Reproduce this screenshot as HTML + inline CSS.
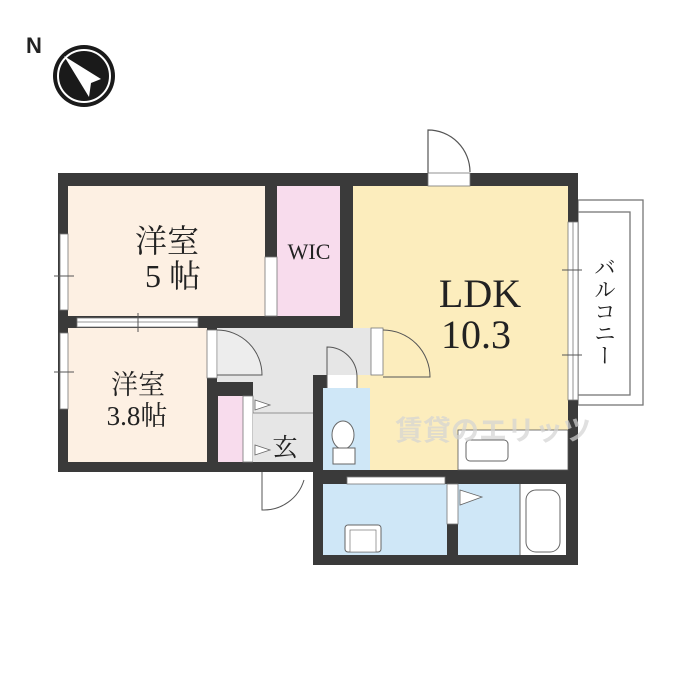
<!DOCTYPE html>
<html><head><meta charset="utf-8"><style>
html,body{margin:0;padding:0;background:#fff;}
svg{display:block}
text{font-family:"Liberation Serif","Noto Serif CJK JP","Noto Serif CJK SC",serif;fill:#222}
</style></head><body>
<svg width="700" height="700" viewBox="0 0 700 700" xmlns="http://www.w3.org/2000/svg">
<text x="26" y="53" font-weight="bold" font-size="22" style="font-family:'Liberation Sans',sans-serif">N</text>
<circle cx="84" cy="76" r="31" fill="#1a1a1a"/>
<circle cx="84" cy="76" r="26" fill="none" stroke="#fff" stroke-width="2"/>
<polygon points="64,56 101,79 91,83 89,97" fill="#fff"/>

<path d="M428,173 V130 A42,42 0 0 1 470,172" fill="none" stroke="#555" stroke-width="1.2"/>
<rect x="578" y="200" width="65" height="205" fill="#fff" stroke="#777" stroke-width="1.3"/>
<rect x="578" y="212" width="52" height="183" fill="#fff" stroke="#777" stroke-width="1.3"/>

<rect x="58" y="173" width="520" height="299" fill="#3a3a3a"/>
<rect x="313" y="375" width="265" height="190" fill="#3a3a3a"/>
<rect x="207" y="316" width="176" height="156" fill="#3a3a3a"/>
<rect x="68" y="186" width="197" height="130" fill="#fdf0e3"/>
<rect x="277" y="186" width="63" height="130" fill="#f8dced"/>
<rect x="353" y="186" width="215" height="284" fill="#fcedbd"/>
<rect x="68" y="328" width="139" height="134" fill="#fdf0e3"/>
<rect x="217" y="328" width="96" height="134" fill="#e6e6e6"/>
<rect x="313" y="328" width="70" height="47" fill="#e6e6e6"/>
<rect x="323" y="388" width="47" height="82" fill="#cfe7f7"/>
<rect x="458" y="430" width="110" height="40" fill="#fff" stroke="#555" stroke-width="0.8"/>
<rect x="323" y="484" width="124" height="71" fill="#cfe7f7"/>
<rect x="458" y="484" width="62" height="71" fill="#cfe7f7"/>
<rect x="520" y="484" width="46" height="71" fill="#fff"/>
<rect x="207" y="382" width="46" height="90" fill="#3a3a3a"/>
<rect x="218" y="396" width="25" height="66" fill="#f8dced"/>
<rect x="243" y="396" width="10" height="66" fill="#fff" stroke="#777" stroke-width="0.8"/>
<rect x="253" y="413" width="60" height="49" fill="#e6e6e6"/>
<line x1="253" y1="413" x2="313" y2="413" stroke="#777" stroke-width="0.8"/>
<rect x="253" y="462" width="60" height="10" fill="#3a3a3a"/>
<polygon points="255,400 270,405 255,410" fill="#fff" stroke="#666" stroke-width="0.8"/>
<polygon points="255,445 270,450 255,455" fill="#fff" stroke="#666" stroke-width="0.8"/>
<rect x="207" y="330" width="10" height="48" fill="#fff" stroke="#777" stroke-width="0.8"/>
<path d="M217,330 A45,45 0 0 1 262,375 H217" fill="#fff" fill-opacity="0.3" stroke="#555" stroke-width="1"/>
<rect x="327" y="375" width="30" height="13" fill="#fff"/>
<path d="M327,388 V347 A30,30 0 0 1 357,377 V388" fill="none" stroke="#555" stroke-width="1"/>
<rect x="371" y="328" width="12" height="47" fill="#fff" stroke="#777" stroke-width="0.8"/>
<path d="M383,330 A47,47 0 0 1 430,377 H383" fill="none" stroke="#555" stroke-width="1"/>
<rect x="428" y="173" width="42" height="13" fill="#fff" stroke="#777" stroke-width="0.8"/>
<rect x="265" y="257" width="12" height="59" fill="#fff" stroke="#777" stroke-width="0.8"/>
<rect x="77" y="318" width="121" height="9" fill="#fff" stroke="#777" stroke-width="0.8"/>
<line x1="77" y1="322" x2="198" y2="322" stroke="#777" stroke-width="0.8"/>
<line x1="138" y1="313" x2="138" y2="332" stroke="#555"/>
<rect x="60" y="234" width="8" height="76" fill="#fff" stroke="#777" stroke-width="0.8"/>
<line x1="54" y1="276" x2="74" y2="276" stroke="#555"/>
<rect x="60" y="333" width="8" height="76" fill="#fff" stroke="#777" stroke-width="0.8"/>
<line x1="54" y1="372" x2="74" y2="372" stroke="#555"/>
<rect x="568" y="222" width="10" height="178" fill="#fff" stroke="#777" stroke-width="0.8"/>
<line x1="573" y1="222" x2="573" y2="400" stroke="#777" stroke-width="0.8"/>
<line x1="562" y1="270" x2="582" y2="270" stroke="#555"/>
<line x1="562" y1="355" x2="582" y2="355" stroke="#555"/>
<rect x="347" y="477" width="98" height="7" fill="#fff" stroke="#777" stroke-width="0.8"/>
<rect x="447" y="484" width="11" height="40" fill="#fff" stroke="#777" stroke-width="0.8"/>
<polygon points="460,490 482,497 460,505" fill="#fff" stroke="#666" stroke-width="0.8"/>
<rect x="526" y="490" width="34" height="62" rx="10" fill="#fff" stroke="#666" stroke-width="1"/>
<line x1="520" y1="484" x2="520" y2="555" stroke="#666"/>
<rect x="345" y="525" width="36" height="27" rx="3" fill="#fff" stroke="#666"/>
<rect x="350" y="530" width="26" height="22" fill="#fff" stroke="#777" stroke-width="0.7"/>
<rect x="466" y="440" width="42" height="21" rx="4" fill="#fff" stroke="#666"/>
<ellipse cx="343" cy="435" rx="11" ry="14" fill="#fff" stroke="#666"/>
<rect x="333" y="448" width="22" height="16" fill="#fff" stroke="#666"/>
<path d="M262,472 V510 A42,42 0 0 0 304,480" fill="none" stroke="#555" stroke-width="1"/>

<text x="167" y="252" font-size="32" text-anchor="middle">洋室</text>
<text x="173" y="287" font-size="32" text-anchor="middle">5 帖</text>
<text x="309" y="259" font-size="22" text-anchor="middle">WIC</text>
<text x="480" y="307" font-size="40" text-anchor="middle">LDK</text>
<text x="476" y="348" font-size="40" text-anchor="middle">10.3</text>
<text x="138" y="394" font-size="27" text-anchor="middle">洋室</text>
<text x="137" y="425" font-size="27" text-anchor="middle">3.8帖</text>
<text x="285" y="456" font-size="25" text-anchor="middle">玄</text>
<text x="604" y="256" font-size="22" text-anchor="start" style="writing-mode:vertical-rl">バルコニー</text>
<text x="395" y="440" font-size="28" style="fill:#d4d4d4;font-family:'Liberation Sans','Noto Sans CJK JP',sans-serif;font-weight:bold" opacity="0.7">賃貸のエリッツ</text>
</svg>
</body></html>
